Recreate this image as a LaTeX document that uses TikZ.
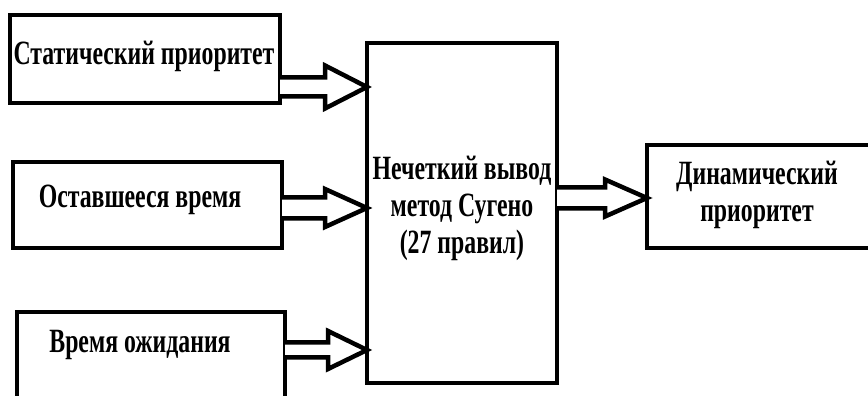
\documentclass[tikz,border=0pt]{standalone}
\usepackage{fontspec}
\setmainfont{Liberation Serif}[FakeStretch=0.7]
\usetikzlibrary{calc}

\tikzset{
  blockbox/.style={draw=black, line width=4.5pt, fill=white, inner sep=0pt, outer sep=0pt},
  blocktext/.style={font=\fontsize{34}{37}\selectfont\bfseries, align=center, inner sep=0pt, text=black},
  hollowarrow/.style={draw=black, line width=4.5pt, line join=miter, fill=white}
}

% hollow block arrow between two named nodes:
% #1 source, #2 target, #3 axis height, #4 half shaft, #5 half head, #6 head length
\newcommand\fatarrow[6]{%
  \draw[hollowarrow] let \p1=(#1.east), \p2=(#2.west) in
    (\x1,#3pt+#4pt) -- (\x2-#6pt,#3pt+#4pt) -- (\x2-#6pt,#3pt+#5pt) -- (\x2,#3pt)
    -- (\x2-#6pt,#3pt-#5pt) -- (\x2-#6pt,#3pt-#4pt) -- (\x1,#3pt-#4pt);
}

\begin{document}
\begin{tikzpicture}[x=1pt,y=1pt]
  \useasboundingbox (0,0) rectangle (868,396);
  \clip (0,0) rectangle (868,396);
  \fill[white] (0,0) rectangle (868,396);

  % input blocks
  \node[blockbox, minimum width=270pt, minimum height=88pt] (stat) at (145,337) {};
  \node[blockbox, minimum width=269pt, minimum height=86pt] (rest) at (147.5,191) {};
  \node[blockbox, minimum width=268pt, minimum height=98pt] (wait) at (151,35) {};

  % inference block
  \node[blockbox, minimum width=190pt, minimum height=340pt] (fis) at (462,183) {};

  % output block
  \node[blockbox, minimum width=233pt, minimum height=103pt] (dyn) at (763.5,199.5) {};

  % labels
  \node[blocktext] (tstat) at (144,340) {Статический приоритет};
  \node[blocktext] (trest) at (140,196) {Оставшееся время};
  \node[blocktext] (twait) at (140,51) {Время ожидания};
  \node[blocktext] (tfis) at (462,188) {Нечеткий вывод\\метод Сугено\\(27 правил)};
  \node[blocktext, align=center] (tdyn) at (757,201) {Динамический\\приоритет};

  % block arrows
  \fatarrow{stat}{fis}{309}{9.5}{21.5}{42}
  \fatarrow{rest}{fis}{188}{10.5}{19}{42}
  \fatarrow{wait}{fis}{46}{7.5}{19}{39}
  \fatarrow{fis}{dyn}{198}{10.5}{18.5}{42}
\end{tikzpicture}
\end{document}
